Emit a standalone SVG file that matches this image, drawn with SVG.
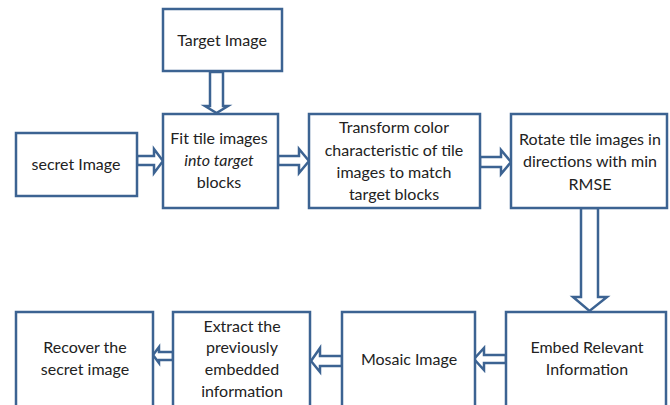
<svg xmlns="http://www.w3.org/2000/svg" width="670" height="405" viewBox="0 0 670 405">
<style>
.box{fill:#fff;stroke:#3c6392;stroke-width:2.5}
.arr{fill:#fff;stroke:#3c6392;stroke-width:2.5;stroke-linejoin:miter}
text{font-family:Lato,"Liberation Sans",sans-serif;font-size:16px;fill:#222;text-anchor:middle}
.it{font-style:italic}
</style>
<rect width="670" height="405" fill="#fff"/>
<g id="connectors">
<polygon class="arr" points="210,72 223,72 223,106 228,106 216.5,113 205,106 210,106"/>
<polygon class="arr" points="137,156 154,156 154,149 163,161 154,173 154,165 137,165"/>
<polygon class="arr" points="278,156 299,156 299,149 309,161 299,173 299,165 278,165"/>
<polygon class="arr" points="480,157 501,157 501,150 511,162 501,174 501,167 480,167"/>
<polygon class="arr" points="581,208 598,208 598,297 607,297 589.5,311 573,297 581,297"/>
<polygon class="arr" points="506,355 484,355 484,348 474,359 484,370 484,363 506,363"/>
<polygon class="arr" points="342,356 320,356 320,348 311,361 320,372 320,366 342,366"/>
<polygon class="arr" points="173,352 159,352 159,347 153,355 159,363 159,360 173,360"/>
</g>
<g id="target">
<rect class="box" x="163" y="9" width="119" height="62"/>
<text x="222" y="46">Target Image</text>
</g>
<g id="secret">
<rect class="box" x="16" y="133" width="121" height="63"/>
<text x="76" y="170">secret Image</text>
</g>
<g id="fit">
<rect class="box" x="163" y="114" width="115" height="94"/>
<text x="219" y="144">Fit tile images</text>
<text x="219" y="166" class="it">into target</text>
<text x="219" y="188">blocks</text>
</g>
<g id="transform">
<rect class="box" x="309" y="114" width="171" height="94"/>
<text x="394" y="133">Transform color</text>
<text x="394" y="156">characteristic of tile</text>
<text x="394" y="178">images to match</text>
<text x="394" y="200">target blocks</text>
</g>
<g id="rotate">
<rect class="box" x="511" y="114" width="156" height="94"/>
<text x="590" y="145">Rotate tile images in</text>
<text x="590" y="167">directions with min</text>
<text x="590" y="190">RMSE</text>
</g>
<g id="embed">
<rect class="box" x="506" y="312" width="160" height="100"/>
<text x="587" y="353">Embed Relevant</text>
<text x="587" y="375">Information</text>
</g>
<g id="mosaic">
<rect class="box" x="342" y="312" width="133" height="100"/>
<text x="409" y="365">Mosaic Image</text>
</g>
<g id="extract">
<rect class="box" x="173" y="312" width="137" height="100"/>
<text x="242" y="332">Extract the</text>
<text x="242" y="353">previously</text>
<text x="242" y="375">embedded</text>
<text x="242" y="397">information</text>
</g>
<g id="recover">
<rect class="box" x="16" y="312" width="137" height="100"/>
<text x="85" y="353">Recover the</text>
<text x="85" y="375">secret image</text>
</g>
</svg>
